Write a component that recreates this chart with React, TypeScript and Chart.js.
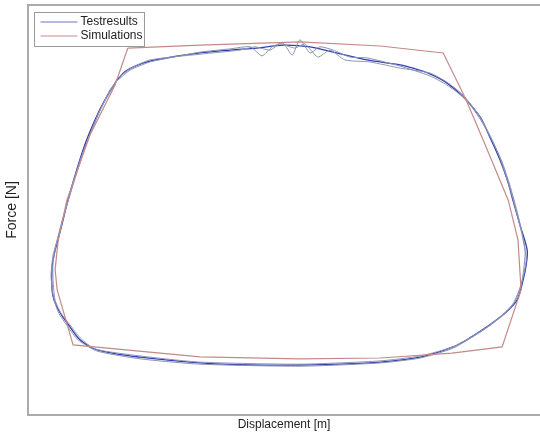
import React, { useEffect, useRef } from "react";
import { Chart, registerables } from "chart.js";

Chart.register(...registerables);

// Normalised displacement (0-100) and force (0-100)
const simX = [19.5, 33.6, 53.1, 68.8, 81.1, 85.4, 88.9, 93.8, 95.7, 96.3, 92.6, 82.8, 68.8, 53.1, 33.6, 8.8, 5.7, 5.3, 5.9, 7.6, 12.1, 17.0, 19.5];
const simY = [89.5, 90.2, 91.0, 90.0, 88.3, 77.3, 67.1, 52.4, 42.7, 30.5, 16.6, 15.1, 13.9, 13.7, 14.2, 17.1, 30.5, 35.4, 42.7, 52.4, 68.3, 80.5, 89.5];

const testX = [17.4, 18.9, 20.9, 23.8, 27.1, 33.6, 39.5, 44.7, 49.8, 55.1, 59.6, 66.2, 72.7, 75.2, 78.5, 81.8, 85.0, 88.3, 90.2, 92.2, 93.8, 94.7, 96.1, 97.5, 97.3, 96.7, 95.5, 93.2, 89.6, 86.3, 83.0, 76.6, 68.8, 60.9, 53.1, 43.4, 33.6, 21.9, 13.5, 10.2, 8.2, 6.3, 5.1, 4.7, 4.7, 5.3, 5.7, 6.6, 7.8, 9.2, 11.1, 13.1, 15.0, 17.4];
const testY = [81.7, 83.7, 85.1, 86.3, 87.1, 88.3, 89.0, 89.5, 90.2, 89.8, 88.5, 86.6, 85.4, 84.6, 83.2, 81.0, 77.6, 72.7, 67.8, 62.2, 56.6, 52.4, 46.3, 40.2, 36.6, 32.9, 28.0, 24.9, 21.5, 18.8, 16.6, 14.1, 12.9, 12.4, 12.2, 12.2, 12.7, 14.1, 15.9, 18.3, 21.5, 24.9, 28.0, 30.5, 36.1, 40.2, 42.0, 46.3, 52.4, 58.5, 65.9, 72.0, 76.8, 81.7];

const cycleAX = [17.4, 19.9, 23.8, 27.7, 33.6, 39.5, 43.4, 45.7, 47.7, 49.8, 51.6, 53.1, 55.1, 57.0, 59.6, 62.9, 66.2, 72.7, 78.5, 81.8, 85.4, 88.3, 90.6, 92.6, 94.1, 95.7, 97.1, 96.5, 95.1, 92.8, 89.3, 83.0, 76.6, 68.8, 53.1, 33.6, 21.9, 13.5, 9.8, 7.8, 5.9, 4.9, 4.5, 4.9, 5.7, 7.6, 10.2, 13.1, 16.0, 17.4];
const cycleAY = [81.5, 84.1, 86.1, 87.1, 88.5, 89.3, 89.8, 87.6, 89.8, 90.7, 87.8, 91.5, 88.3, 89.8, 89.0, 87.3, 87.1, 85.1, 82.7, 80.5, 77.1, 72.2, 67.1, 61.7, 56.1, 48.8, 40.2, 32.9, 27.6, 24.4, 21.0, 16.3, 13.9, 12.7, 11.9, 12.4, 13.7, 15.6, 18.3, 21.5, 25.1, 29.3, 34.1, 39.0, 42.7, 51.2, 62.2, 71.5, 79.3, 81.5];

const cycleBX = [17.4, 19.9, 23.8, 33.6, 41.4, 44.3, 47.3, 49.2, 52.1, 54.1, 56.6, 59.0, 61.9, 66.8, 72.7, 78.5, 81.8, 85.0, 87.9, 90.2, 92.2, 94.5, 96.5, 97.3, 96.3, 94.7, 92.2, 89.3, 83.4, 76.6, 68.8, 53.1, 33.6, 21.9, 13.1, 10.2, 8.2, 6.4, 5.3, 4.9, 4.9, 5.5, 6.6, 8.2, 11.1, 14.1, 17.4];
const cycleBY = [82.0, 84.4, 86.6, 88.0, 89.0, 89.8, 89.0, 90.5, 89.5, 90.5, 87.3, 89.0, 86.6, 86.1, 84.6, 83.4, 81.2, 78.0, 73.4, 68.3, 62.7, 53.7, 43.9, 37.8, 31.7, 27.1, 23.9, 21.2, 16.8, 14.4, 13.2, 12.4, 12.9, 14.4, 16.1, 18.8, 22.0, 24.9, 28.0, 32.9, 37.3, 41.5, 47.1, 53.7, 65.1, 74.4, 82.0];

const legendLabels = ["Testresults", "Simulations"];
const xTitle = "Displacement [m]";
const yTitle = "Force [N]";

const pts = (xs: number[], ys: number[]) => xs.map((x, i) => ({ x, y: ys[i] }));

const FONT = "'Liberation Sans', Arial, sans-serif";
const FRAME = "#ababab";

const framePlugin = {
  id: "frameTop",
  beforeDatasetsDraw(chart: any) {
    const { ctx, chartArea } = chart;
    ctx.save();
    ctx.strokeStyle = FRAME;
    ctx.lineWidth = 2;
    ctx.beginPath();
    ctx.moveTo(chartArea.left, chartArea.top);
    ctx.lineTo(chartArea.right, chartArea.top);
    ctx.stroke();
    ctx.restore();
  },
};

const legendPlugin = {
  id: "boxLegend",
  afterDraw(chart: any) {
    const { ctx, chartArea } = chart;
    const x0 = Math.round(chartArea.left) + 6.5;
    const y0 = Math.round(chartArea.top) + 7.5;
    ctx.save();
    ctx.fillStyle = "#ffffff";
    ctx.fillRect(x0, y0, 110, 34);
    ctx.strokeStyle = "#9a9a9a";
    ctx.lineWidth = 1;
    ctx.strokeRect(x0, y0, 110, 34);
    const colors = ["#6877bd", "#c48c8c"];
    legendLabels.forEach((lab, i) => {
      const y = y0 + 9.5 + i * 14;
      ctx.strokeStyle = colors[i];
      ctx.lineWidth = 1;
      ctx.beginPath();
      ctx.moveTo(x0 + 6, y);
      ctx.lineTo(x0 + 43, y);
      ctx.stroke();
      ctx.fillStyle = "#222222";
      ctx.font = `12px ${FONT}`;
      ctx.textBaseline = "middle";
      ctx.fillText(lab, x0 + 46, y);
    });
    ctx.restore();
  },
};

export default function App() {
  const ref = useRef<HTMLCanvasElement>(null);
  useEffect(() => {
    if (!ref.current) return;
    const chart = new Chart(ref.current, {
      type: "scatter",
      data: {
        datasets: [
          { label: "Simulations", data: pts(simX, simY), showLine: true, borderColor: "#c48a8a", borderWidth: 1.2, pointRadius: 0, tension: 0 },
          { label: "cycleA", data: pts(cycleAX, cycleAY), showLine: true, borderColor: "#8a90b4", borderWidth: 1, pointRadius: 0, tension: 0.2 },
          { label: "cycleB", data: pts(cycleBX, cycleBY), showLine: true, borderColor: "#9096b8", borderWidth: 1, pointRadius: 0, tension: 0.2 },
          { label: "Testresults", data: pts(testX, testY), showLine: true, borderColor: "#2f3fae", borderWidth: 1.3, pointRadius: 0, tension: 0.3 },
        ],
      },
      options: {
        responsive: false,
        animation: false,
        layout: { padding: { top: 5, left: 0, right: 0, bottom: 0 } },
        plugins: { legend: { display: false }, tooltip: { enabled: false } },
        scales: {
          x: {
            type: "linear",
            min: 0,
            max: 100,
            grid: { display: false, drawTicks: false, tickLength: 0 },
            ticks: { display: false },
            border: { display: true, color: FRAME, width: 2 },
            title: { display: true, text: xTitle, color: "#222", font: { family: FONT, size: 12 }, padding: { top: 2.8, bottom: 1.8 } },
          },
          y: {
            type: "linear",
            min: 0,
            max: 100,
            grid: { display: false, drawTicks: false, tickLength: 0 },
            ticks: { display: false },
            border: { display: true, color: FRAME, width: 2 },
            title: { display: true, text: yTitle, color: "#222", font: { family: FONT, size: 14 }, padding: { top: 3.6, bottom: 7.6 } },
          },
        },
      },
      plugins: [framePlugin, legendPlugin],
    });
    return () => chart.destroy();
  }, []);
  return (
    <div style={{ position: "absolute", left: 0, top: 0, width: 540, height: 434, background: "#fff" }}>
      <canvas ref={ref} width={540} height={434} style={{ display: "block" }} />
    </div>
  );
}
